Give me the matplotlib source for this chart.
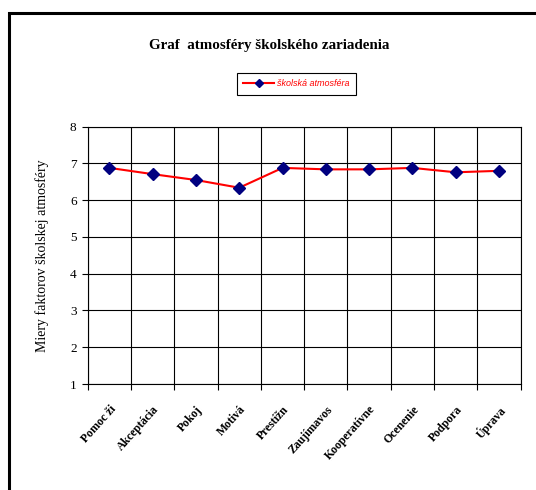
import numpy as np
import matplotlib
matplotlib.use("Agg")
import matplotlib.pyplot as plt
from matplotlib.patches import Rectangle

# faktory skolskej atmosfery (popisky su v originale orezane)
kategorie = ["Pomoc ži", "Akceptácia", "Pokoj", "Motivá", "Prestížn",
             "Zaujímavos", "Kooperatívne", "Ocenenie", "Podpora", "Úprava"]
hodnoty = [6.88, 6.71, 6.55, 6.34, 6.88, 6.84, 6.84, 6.88, 6.76, 6.80]
y_ticky = [1, 2, 3, 4, 5, 6, 7, 8]

serif = "Liberation Serif"
sans = "Liberation Sans"

fig = plt.figure(figsize=(5.36, 4.90), dpi=100)
ax = fig.add_axes([0.1636, 0.2163, 0.8078, 0.5251])

x = np.arange(len(kategorie))
ax.plot(x, hodnoty, color="#ff0000", lw=1.5, marker="D", ms=6.3,
        mfc="#000080", mec="#000080", label="školská atmosféra", zorder=3)

ax.set_xlim(-0.5, len(kategorie) - 0.5)
ax.set_ylim(1, 8)
ax.set_yticks(y_ticky)
ax.set_yticklabels([str(v) for v in y_ticky], fontfamily=serif, fontsize=9.5)

# hranice kategorii = zvisle mriezky a ticky
hranice = np.arange(len(kategorie) + 1) - 0.5
ax.set_xticks(hranice, minor=True)
ax.set_xticks(x)
ax.set_xticklabels(kategorie, rotation=48, ha="right", va="top",
                   rotation_mode="anchor", fontfamily=serif, fontsize=8.5,
                   fontweight="bold")
ax.tick_params(axis="x", which="major", length=0, pad=14)
ax.tick_params(axis="x", which="minor", length=4, width=0.8, direction="out")
ax.tick_params(axis="y", length=4, width=0.8, direction="out", pad=4)
ax.grid(True, axis="y", color="black", lw=0.8)
ax.grid(True, axis="x", which="minor", color="black", lw=0.8)
for s in ax.spines.values():
    s.set_linewidth(0.8)
    s.set_color("black")

ax.set_ylabel("Miery faktorov školskej atmosféry", fontfamily=serif, fontsize=10, labelpad=15)

fig.text(0.502, 0.908, "Graf  atmosféry školského zariadenia", ha="center", va="center",
         fontfamily=serif, fontweight="bold", fontsize=10.8)

leg = ax.legend(loc="center", bbox_to_anchor=(0.553, 0.829), bbox_transform=fig.transFigure,
                frameon=True, fancybox=False, edgecolor="black", framealpha=1,
                prop={"family": sans, "style": "italic", "size": 6.5},
                handlelength=3.4, handletextpad=0.3, borderpad=0.75, markerscale=0.6)
leg.get_frame().set_linewidth(0.8)
for t in leg.get_texts():
    t.set_color("#ff0000")

# ramik grafu (pravy a spodny okraj su mimo obrazka)
fig.add_artist(Rectangle((9 / 536, -0.1), 1.2, (490 - 13) / 490 + 0.1,
                         transform=fig.transFigure, fill=False, lw=2.2, edgecolor="black"))

fig.savefig("out.png", dpi=100)
